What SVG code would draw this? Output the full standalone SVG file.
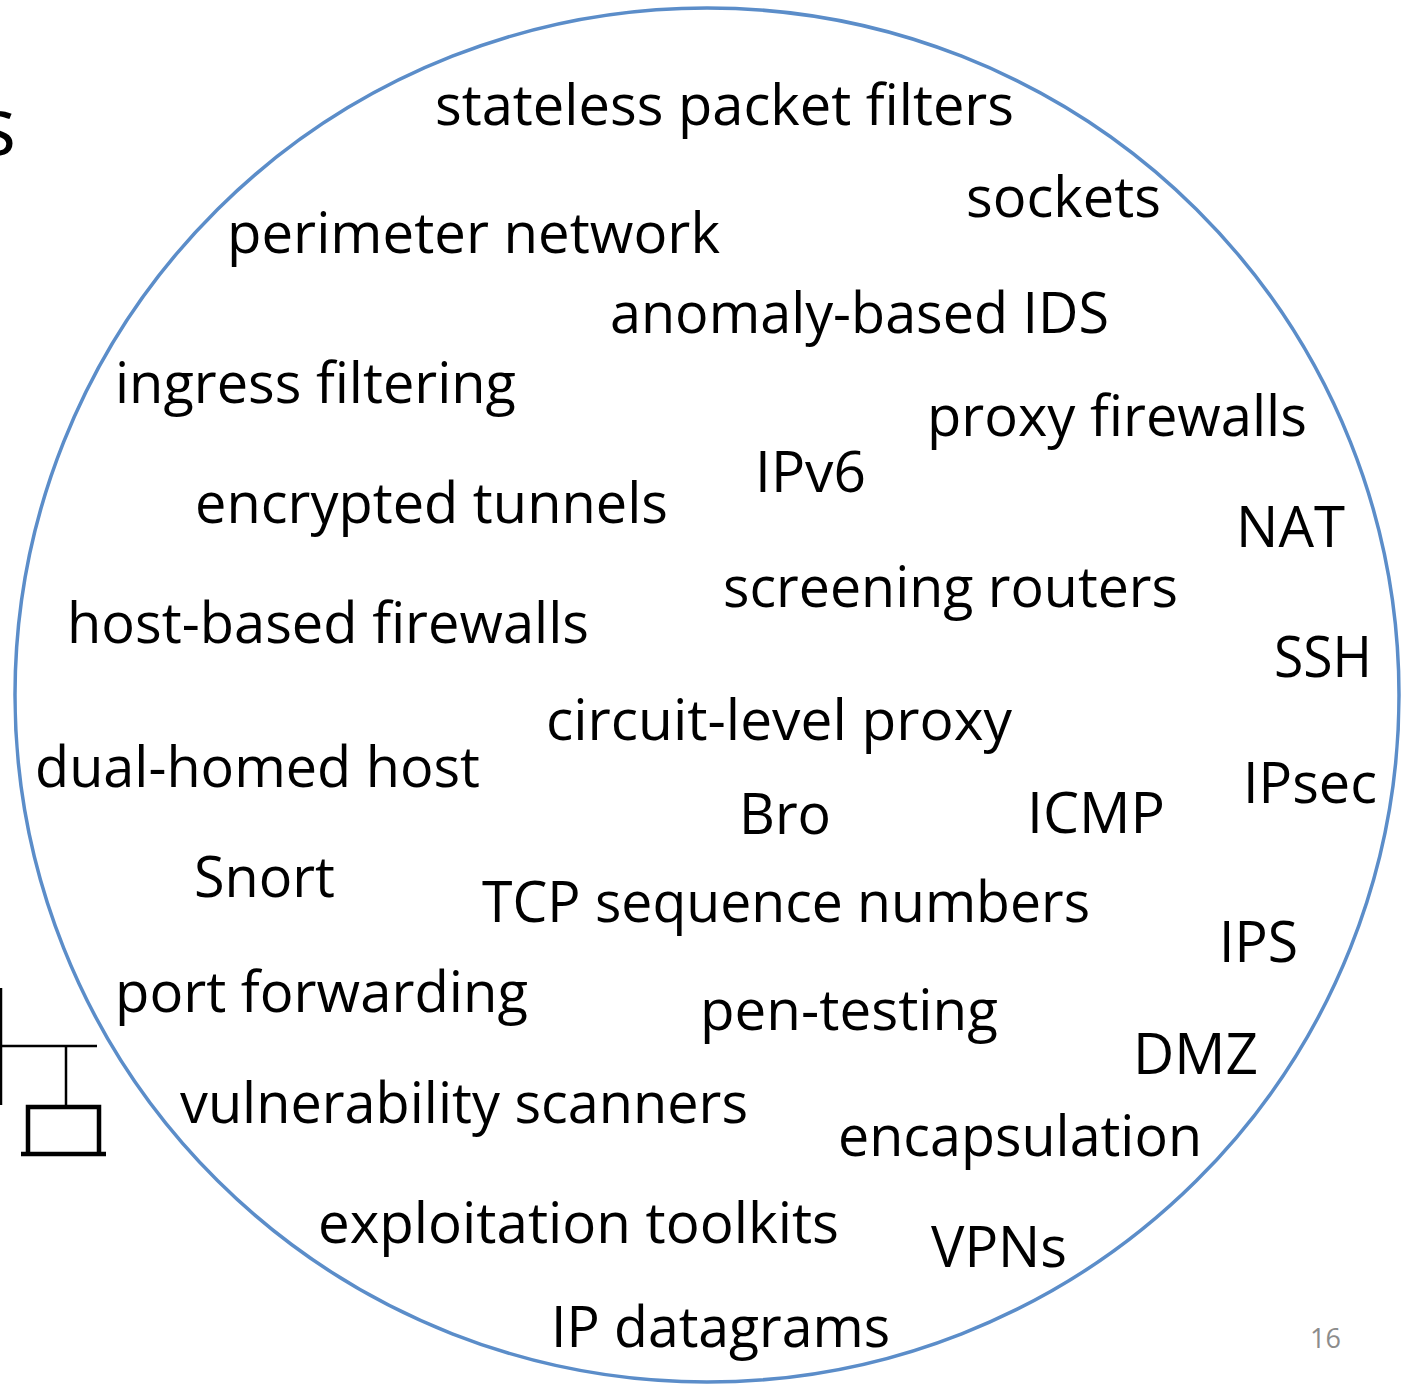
<svg xmlns="http://www.w3.org/2000/svg" width="1402" height="1384" viewBox="0 0 1402 1384">
<style>
.t{font-family:"Open Sans","Liberation Sans",sans-serif;font-size:57px;fill:#000}
.ln{stroke:#000;fill:none}
</style>
<rect width="1402" height="1384" fill="#fff"/>
<text x="-22" y="155" style="font-family:'Open Sans','Liberation Sans',sans-serif;font-size:80px">s</text>
<g id="network-icon">
<line class="ln" x1="1" y1="988" x2="1" y2="1105" stroke-width="2.5"/>
<line class="ln" x1="0" y1="1046" x2="97" y2="1046" stroke-width="2.5"/>
<line class="ln" x1="66" y1="1046" x2="66" y2="1107" stroke-width="2.5"/>
<polyline class="ln" points="28,1154 28,1107 99,1107 99,1154" stroke-width="4.5"/>
<line class="ln" x1="21" y1="1154" x2="106" y2="1154" stroke-width="4.5"/>
</g>
<g id="circle">
<ellipse cx="707" cy="695" rx="692" ry="687" fill="none" stroke="#5B8DC9" stroke-width="3.5"/>
</g>
<g id="connectors"></g>
<g id="terms">
<text class="t" x="435" y="125" textLength="579" lengthAdjust="spacingAndGlyphs">stateless packet filters</text>
<text class="t" x="966" y="217" textLength="195" lengthAdjust="spacingAndGlyphs">sockets</text>
<text class="t" x="227" y="253" textLength="493" lengthAdjust="spacingAndGlyphs">perimeter network</text>
<text class="t" x="610" y="333" textLength="499" lengthAdjust="spacingAndGlyphs">anomaly-based IDS</text>
<text class="t" x="115" y="403" textLength="401" lengthAdjust="spacingAndGlyphs">ingress filtering</text>
<text class="t" x="927" y="436" textLength="380" lengthAdjust="spacingAndGlyphs">proxy firewalls</text>
<text class="t" x="755" y="492" textLength="111" lengthAdjust="spacingAndGlyphs">IPv6</text>
<text class="t" x="195" y="523" textLength="473" lengthAdjust="spacingAndGlyphs">encrypted tunnels</text>
<text class="t" x="1236" y="547" textLength="109" lengthAdjust="spacingAndGlyphs">NAT</text>
<text class="t" x="723" y="607" textLength="455" lengthAdjust="spacingAndGlyphs">screening routers</text>
<text class="t" x="67" y="643" textLength="522" lengthAdjust="spacingAndGlyphs">host-based firewalls</text>
<text class="t" x="1274" y="677" textLength="98" lengthAdjust="spacingAndGlyphs">SSH</text>
<text class="t" x="546" y="740" textLength="466" lengthAdjust="spacingAndGlyphs">circuit-level proxy</text>
<text class="t" x="35" y="787" textLength="445" lengthAdjust="spacingAndGlyphs">dual-homed host</text>
<text class="t" x="1243" y="803" textLength="134" lengthAdjust="spacingAndGlyphs">IPsec</text>
<text class="t" x="739" y="834" textLength="92" lengthAdjust="spacingAndGlyphs">Bro</text>
<text class="t" x="1027" y="833" textLength="138" lengthAdjust="spacingAndGlyphs">ICMP</text>
<text class="t" x="194" y="897" textLength="141" lengthAdjust="spacingAndGlyphs">Snort</text>
<text class="t" x="482" y="922" textLength="608" lengthAdjust="spacingAndGlyphs">TCP sequence numbers</text>
<text class="t" x="1219" y="962" textLength="79" lengthAdjust="spacingAndGlyphs">IPS</text>
<text class="t" x="115" y="1012" textLength="413" lengthAdjust="spacingAndGlyphs">port forwarding</text>
<text class="t" x="700" y="1030" textLength="298" lengthAdjust="spacingAndGlyphs">pen-testing</text>
<text class="t" x="1133" y="1074" textLength="125" lengthAdjust="spacingAndGlyphs">DMZ</text>
<text class="t" x="180" y="1123" textLength="568" lengthAdjust="spacingAndGlyphs">vulnerability scanners</text>
<text class="t" x="838" y="1156" textLength="364" lengthAdjust="spacingAndGlyphs">encapsulation</text>
<text class="t" x="318" y="1243" textLength="521" lengthAdjust="spacingAndGlyphs">exploitation toolkits</text>
<text class="t" x="931" y="1267" textLength="136" lengthAdjust="spacingAndGlyphs">VPNs</text>
<text class="t" x="551" y="1347" textLength="339" lengthAdjust="spacingAndGlyphs">IP datagrams</text>
</g>
<text x="1310" y="1348" style="font-family:'Open Sans','Liberation Sans',sans-serif;font-size:27px;fill:#8C8C8C">16</text>
</svg>
